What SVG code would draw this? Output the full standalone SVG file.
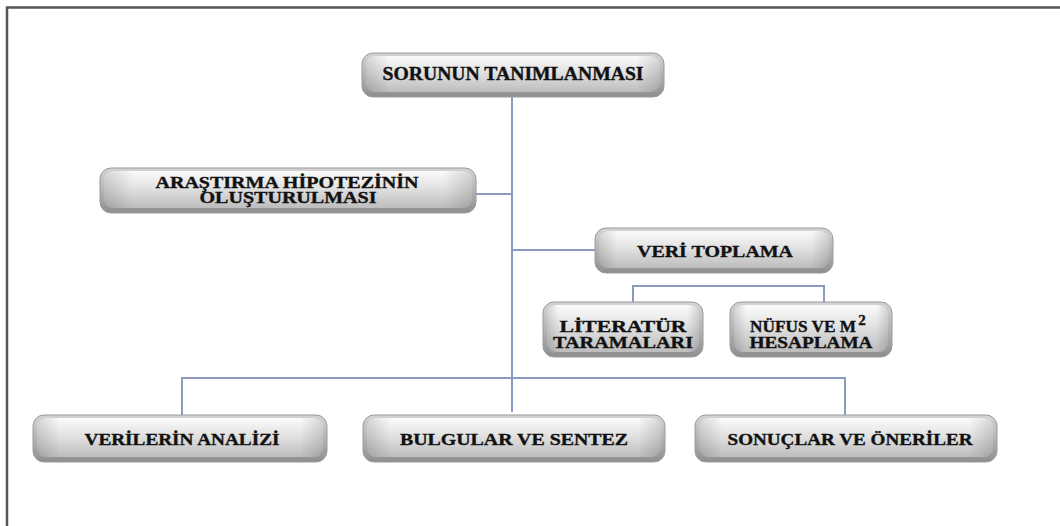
<svg xmlns="http://www.w3.org/2000/svg" width="1060" height="526" viewBox="0 0 1060 526">
<defs>
<linearGradient id="outer" x1="0" y1="0" x2="0" y2="1">
<stop offset="0" stop-color="#d4d4d4"/>
<stop offset="0.5" stop-color="#b4b4b4"/>
<stop offset="1" stop-color="#8e8e8e"/>
</linearGradient>
<linearGradient id="inner" x1="0" y1="0" x2="0" y2="1">
<stop offset="0" stop-color="#fbfbfb"/>
<stop offset="0.45" stop-color="#e2e2e2"/>
<stop offset="1" stop-color="#bdbdbd"/>
</linearGradient>
<linearGradient id="side" x1="0" y1="0" x2="1" y2="0">
<stop offset="0" stop-color="#000" stop-opacity="0.14"/>
<stop offset="0.08" stop-color="#000" stop-opacity="0"/>
<stop offset="0.92" stop-color="#000" stop-opacity="0"/>
<stop offset="1" stop-color="#000" stop-opacity="0.14"/>
</linearGradient>
</defs>
<style>
.o{fill:url(#outer);stroke:#9a9a9a;stroke-width:1}
.i{fill:url(#inner)}
.s{fill:url(#side)}
.t{font-family:"Liberation Serif",serif;font-weight:bold;fill:#111;stroke:#111;stroke-width:0.35;text-anchor:middle}
.c{fill:none;stroke:#8a9ac0;stroke-width:2}
</style>
<rect x="0" y="0" width="1060" height="526" fill="#fff"/>
<path d="M7,526 V7.5 H1060" fill="none" stroke="#555" stroke-width="2.5"/>
<g id="connectors">
<path class="c" d="M512,97 V412"/>
<path class="c" d="M476,194 H512"/>
<path class="c" d="M512,250 H595"/>
<path class="c" d="M633,302 V286 H824 V302"/>
<path class="c" d="M182,415 V378 H845 V415"/>
</g>
<g id="n1">
<rect class="o" x="362" y="53" width="302" height="44" rx="11"/>
<rect class="i" x="366" y="56" width="294" height="36" rx="9"/>
<rect class="s" x="366" y="56" width="294" height="36" rx="9"/>
<text class="t" x="513" y="80" font-size="18" textLength="261" lengthAdjust="spacingAndGlyphs">SORUNUN TANIMLANMASI</text>
</g>
<g id="n2">
<rect class="o" x="100" y="168" width="376" height="45" rx="11"/>
<rect class="i" x="104" y="171" width="368" height="37" rx="9"/>
<rect class="s" x="104" y="171" width="368" height="37" rx="9"/>
<text class="t" x="287" y="188" font-size="16" textLength="263" lengthAdjust="spacingAndGlyphs">ARAŞTIRMA HİPOTEZİNİN</text>
<text class="t" x="288" y="203" font-size="16" textLength="177" lengthAdjust="spacingAndGlyphs">OLUŞTURULMASI</text>
</g>
<g id="n3">
<rect class="o" x="595" y="228" width="238" height="45" rx="11"/>
<rect class="i" x="599" y="231" width="230" height="37" rx="9"/>
<rect class="s" x="599" y="231" width="230" height="37" rx="9"/>
<text class="t" x="715" y="257" font-size="17" textLength="156" lengthAdjust="spacingAndGlyphs">VERİ TOPLAMA</text>
</g>
<g id="n4">
<rect class="o" x="543" y="302" width="160" height="55" rx="11"/>
<rect class="i" x="547" y="305" width="152" height="47" rx="9"/>
<rect class="s" x="547" y="305" width="152" height="47" rx="9"/>
<text class="t" x="623" y="332" font-size="16" textLength="127" lengthAdjust="spacingAndGlyphs">LİTERATÜR</text>
<text class="t" x="623" y="348" font-size="16" textLength="140" lengthAdjust="spacingAndGlyphs">TARAMALARI</text>
</g>
<g id="n5">
<rect class="o" x="730" y="302" width="162" height="55" rx="11"/>
<rect class="i" x="734" y="305" width="154" height="47" rx="9"/>
<rect class="s" x="734" y="305" width="154" height="47" rx="9"/>
<text class="t" x="803" y="332" font-size="16" textLength="106" lengthAdjust="spacingAndGlyphs">NÜFUS VE M</text>
<text class="t" x="862" y="325" font-size="15">2</text>
<text class="t" x="811" y="348" font-size="16" textLength="123" lengthAdjust="spacingAndGlyphs">HESAPLAMA</text>
</g>
<g id="n6">
<rect class="o" x="33" y="415" width="294" height="47" rx="11"/>
<rect class="i" x="37" y="418" width="286" height="39" rx="9"/>
<rect class="s" x="37" y="418" width="286" height="39" rx="9"/>
<text class="t" x="182" y="445" font-size="17" textLength="195" lengthAdjust="spacingAndGlyphs">VERİLERİN ANALİZİ</text>
</g>
<g id="n7">
<rect class="o" x="363" y="415" width="302" height="47" rx="11"/>
<rect class="i" x="367" y="418" width="294" height="39" rx="9"/>
<rect class="s" x="367" y="418" width="294" height="39" rx="9"/>
<text class="t" x="514" y="445" font-size="17" textLength="228" lengthAdjust="spacingAndGlyphs">BULGULAR VE SENTEZ</text>
</g>
<g id="n8">
<rect class="o" x="695" y="415" width="302" height="47" rx="11"/>
<rect class="i" x="699" y="418" width="294" height="39" rx="9"/>
<rect class="s" x="699" y="418" width="294" height="39" rx="9"/>
<text class="t" x="850" y="445" font-size="17" textLength="245" lengthAdjust="spacingAndGlyphs">SONUÇLAR VE ÖNERİLER</text>
</g>
</svg>
